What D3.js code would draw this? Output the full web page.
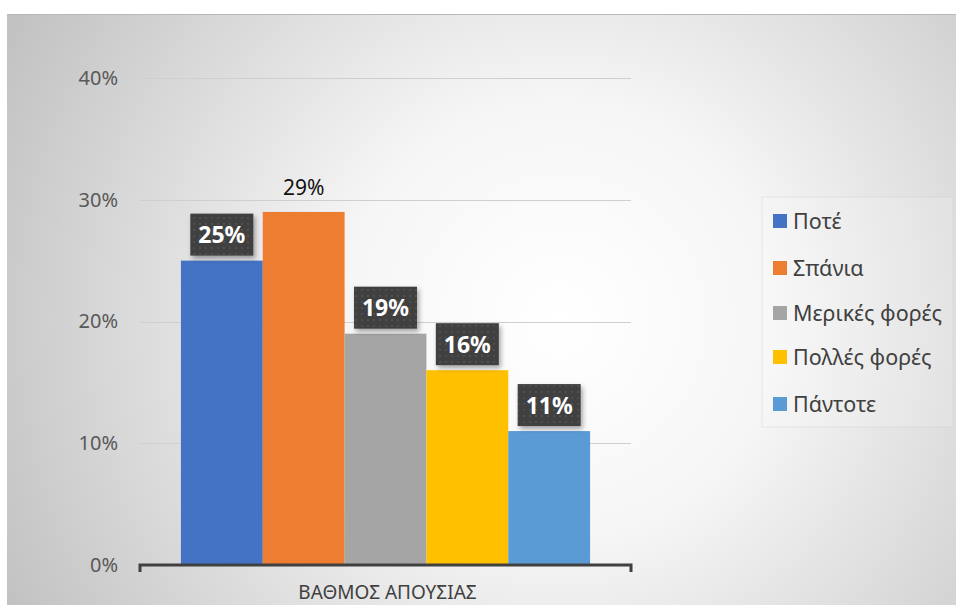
<!DOCTYPE html>
<html>
<head>
<meta charset="utf-8">
<script src="https://cdn.jsdelivr.net/npm/d3@7/dist/d3.min.js"></script>
<style>
  html, body { margin: 0; padding: 0; background: #ffffff; }
  svg { display: block; }
  text { font-family: "Noto Sans", "Open Sans", sans-serif; }
</style>
</head>
<body>
<svg id="chart" width="956" height="605"></svg>
<script>
// Survey answers, one bar per response
const categories = ["Ποτέ", "Σπάνια", "Μερικές φορές", "Πολλές φορές", "Πάντοτε"];
const values = [25, 29, 19, 16, 11];
const colors = ["#4472C4", "#ED7D31", "#A5A5A5", "#FFC000", "#5B9BD5"];
const yTicks = [0, 10, 20, 30, 40];
const axisTitle = "ΒΑΘΜΟΣ ΑΠΟΥΣΙΑΣ";
// Only the second value is printed without the dark callout box
const plainLabel = [false, true, false, false, false];

const svg = d3.select("#chart");
const defs = svg.append("defs");

// Soft radial backdrop
const rg = defs.append("radialGradient").attr("id", "bg")
  .attr("gradientUnits", "userSpaceOnUse")
  .attr("cx", 560).attr("cy", 320).attr("r", 620);
rg.append("stop").attr("offset", "0").attr("stop-color", "#ffffff");
rg.append("stop").attr("offset", "0.35").attr("stop-color", "#f6f6f6");
rg.append("stop").attr("offset", "1").attr("stop-color", "#c2c2c2");

// Dotted dark fill for value callouts
const pat = defs.append("pattern").attr("id", "dots")
  .attr("patternUnits", "userSpaceOnUse").attr("width", 6).attr("height", 6);
pat.append("rect").attr("width", 6).attr("height", 6).attr("fill", "#3f3f3f");
pat.append("rect").attr("x", 1).attr("y", 1).attr("width", 2).attr("height", 2).attr("fill", "#4f4f4f");

const sh = defs.append("filter").attr("id", "shadow")
  .attr("x", "-20%").attr("y", "-20%").attr("width", "150%").attr("height", "160%");
sh.append("feDropShadow").attr("dx", 2).attr("dy", 3).attr("stdDeviation", 2.5)
  .attr("flood-color", "#000").attr("flood-opacity", 0.35);

svg.append("rect").attr("x", 7).attr("y", 14).attr("width", 949).attr("height", 591)
  .attr("fill", "url(#bg)");
svg.append("line").attr("x1", 7).attr("x2", 956).attr("y1", 14.5).attr("y2", 14.5)
  .attr("stroke", "#b8b8b8").attr("stroke-width", 1);

// Plot geometry
const plotLeft = 140, plotRight = 631, plotTop = 78, plotBottom = 565;

const y = d3.scaleLinear().domain([0, 40]).range([plotBottom, plotTop]);
const group = d3.scaleBand().domain([axisTitle]).range([plotLeft, plotRight]).paddingInner(0).paddingOuter(0.1);
const x = d3.scaleBand().domain(categories)
  .range([group(axisTitle), group(axisTitle) + group.bandwidth()]).padding(0);

// Gridlines
svg.append("g")
  .selectAll("line").data(yTicks.filter(t => t > 0)).join("line")
  .attr("x1", plotLeft).attr("x2", plotRight)
  .attr("y1", d => Math.round(y(d)) + 0.5).attr("y2", d => Math.round(y(d)) + 0.5)
  .attr("stroke", "#cfcfcf").attr("stroke-width", 1);

// Y axis labels
const yAxis = d3.axisLeft(y).tickValues(yTicks).tickFormat(d => d + "%").tickSize(0).tickPadding(0);
const yg = svg.append("g").attr("transform", `translate(118,0)`).call(yAxis);
yg.select(".domain").remove();
yg.selectAll("text").attr("font-size", 20).attr("fill", "#595959")
  .attr("font-family", "'Noto Sans', sans-serif");

// Bars
svg.append("g").selectAll("rect").data(categories).join("rect")
  .attr("x", d => x(d)).attr("width", x.bandwidth())
  .attr("y", (d, i) => y(values[i]))
  .attr("height", (d, i) => y(0) - y(values[i]))
  .attr("fill", (d, i) => colors[i]);

// Category axis with bracket ends
const xg = svg.append("g");
xg.append("path")
  .attr("d", `M${plotLeft},${plotBottom + 7}V${plotBottom}H${plotRight}V${plotBottom + 7}`)
  .attr("fill", "none").attr("stroke", "#404040").attr("stroke-width", 3);
xg.append("text").attr("x", (plotLeft + plotRight) / 2 + 2).attr("y", 599)
  .attr("text-anchor", "middle").attr("font-size", 19).attr("fill", "#404040")
  .text(axisTitle);

// Value labels
const lbl = svg.append("g");
categories.forEach((c, i) => {
  const cx = x(c) + x.bandwidth() / 2;
  const top = y(values[i]);
  const txt = values[i] + "%";
  if (plainLabel[i]) {
    lbl.append("text").attr("x", cx).attr("y", top - 17)
      .attr("text-anchor", "middle").attr("font-size", 21).attr("fill", "#111")
      .text(txt);
  } else {
    const w = 63, h = 42;
    lbl.append("rect").attr("x", cx - w / 2).attr("y", top - 5 - h)
      .attr("width", w).attr("height", h).attr("fill", "url(#dots)")
      .attr("filter", "url(#shadow)");
    lbl.append("text").attr("x", cx).attr("y", top - 5 - h / 2 + 8.5)
      .attr("text-anchor", "middle").attr("font-size", 23).attr("font-weight", "bold")
      .attr("fill", "#ffffff").text(txt);
  }
});

// Legend
const legend = svg.append("g").attr("transform", "translate(762,197)");
legend.append("rect").attr("x", 0).attr("y", 0).attr("width", 191).attr("height", 230)
  .attr("fill", "#ffffff").attr("fill-opacity", 0.15)
  .attr("stroke", "#d0d0d0").attr("stroke-opacity", 0.4);
const rowY = [24, 71, 116, 160, 207];
categories.forEach((c, i) => {
  legend.append("rect").attr("x", 11).attr("y", rowY[i] - 7).attr("width", 14).attr("height", 14)
    .attr("fill", colors[i]);
  legend.append("text").attr("x", 31).attr("y", rowY[i] + 7.5)
    .attr("font-size", 21.5).attr("fill", "#404040").text(c);
});
</script>
</body>
</html>
